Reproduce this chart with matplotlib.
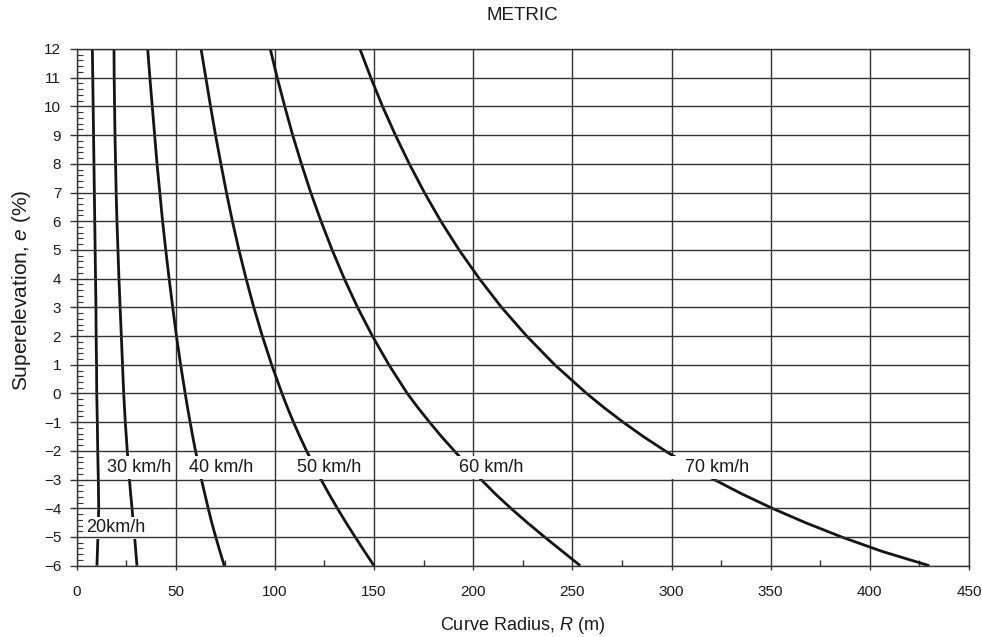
import matplotlib
matplotlib.use('Agg')
import matplotlib.pyplot as plt
from matplotlib.ticker import MultipleLocator

plt.rcParams['font.family'] = ['Liberation Sans', 'DejaVu Sans']
plt.rcParams['mathtext.fontset'] = 'custom'
plt.rcParams['mathtext.rm'] = 'Liberation Sans'
plt.rcParams['mathtext.it'] = 'Liberation Sans:italic'

# ---- data ----
e_levels = [12, 11, 10, 9, 8, 7, 6, 5, 4, 3, 2, 1, 0,
            -0.5, -1, -1.5, -2, -2.5, -3, -3.5, -4, -4.5, -5, -5.5, -6]

R_20 = [8.0, 8.2, 8.4, 8.6, 8.8, 9.0, 9.2, 9.4, 9.6, 9.8, 9.9, 10.1, 10.2,
        10.35, 10.5, 10.6, 10.7, 10.85, 11.0, 11.1, 11.2, 11.0, 10.8, 10.55, 10.3]
R_30 = [18.9, 19.0, 19.2, 19.4, 19.7, 20.0, 20.4, 20.9, 21.4, 22.0, 22.6, 23.2, 23.8,
        24.2, 24.6, 25.1, 25.6, 26.1, 26.7, 27.3, 28.0, 28.6, 29.3, 29.9, 30.5]
R_40 = [35.9, 37.0, 38.2, 39.4, 40.6, 42.0, 43.4, 45.0, 46.7, 48.5, 50.4, 52.5, 54.8,
        56.0, 57.3, 58.6, 60.0, 61.5, 63.0, 64.7, 66.4, 68.2, 70.2, 72.3, 74.5]
R_50 = [62.8, 65.2, 67.6, 70.1, 72.8, 75.6, 78.6, 81.9, 85.5, 89.4, 93.7, 98.4, 103.6,
        106.4, 109.4, 112.6, 116.0, 119.6, 123.3, 127.3, 131.5, 135.9, 140.5, 145.2, 150.0]
R_60 = [97.7, 101.2, 105.0, 109.0, 113.4, 118.1, 123.3, 128.9, 135.0, 141.7, 149.2, 157.5, 166.8,
        172.2, 178.0, 184.0, 190.5, 197.0, 204.0, 211.2, 219.0, 227.3, 236.0, 245.0, 254.0]
R_70 = [142.9, 148.4, 154.3, 160.8, 167.8, 175.4, 183.7, 192.9, 203.1, 214.3, 227.0, 241.1, 257.2,
        266.1, 275.6, 285.8, 296.8, 308.7, 321.5, 335.5, 350.8, 367.5, 385.8, 406.1, 430.0]

label_text = ['20km/h', '30 km/h', '40 km/h', '50 km/h', '60 km/h', '   70 km/h']
label_R = [4.8, 15.2, 56.9, 111.4, 193.0, 299.4]
label_e = [-4.84, -2.74, -2.74, -2.74, -2.74, -2.74]

x_ticks = [0, 50, 100, 150, 200, 250, 300, 350, 400, 450]
y_ticks = list(range(-6, 13))

title = 'METRIC'
x_label = 'Curve Radius, $R$ (m)'
y_label = 'Superelevation, $e$ (%)'

# ---- figure ----
W, H = 982, 637
fig = plt.figure(figsize=(W / 100, H / 100), dpi=100)
left, right, top, bottom = 76.5, 969.0, 49.0, 565.7
ax = fig.add_axes([left / W, 1 - bottom / H, (right - left) / W, (bottom - top) / H])

grid_color = '#333333'
curve_color = '#141414'

for xt in x_ticks:
    ax.axvline(xt, color=grid_color, lw=1.0, zorder=2)
for yt in y_ticks:
    ax.axhline(yt, color=grid_color, lw=1.0, zorder=5)

for R in [R_20, R_30, R_40, R_50, R_60, R_70]:
    ax.plot(R, e_levels, color=curve_color, lw=2.0, zorder=3,
            solid_capstyle='butt', solid_joinstyle='round')

for t, r, e in zip(label_text, label_R, label_e):
    ax.text(r, e, t, ha='left', va='baseline', fontsize=13, color='#1a1a1a', zorder=4,
            bbox=dict(boxstyle='square,pad=0.15', facecolor='white', edgecolor='none'))

ax.set_xlim(0, 450)
ax.set_ylim(-6, 12)
ax.set_xticks(x_ticks)
ax.set_yticks(y_ticks)
ax.xaxis.set_minor_locator(MultipleLocator(25))
ax.yaxis.set_minor_locator(MultipleLocator(0.2))

ax.tick_params(axis='x', which='major', direction='out', length=3, width=1.0,
               color=grid_color, pad=11, labelsize=11, labelcolor='#1a1a1a')
ax.tick_params(axis='x', which='minor', direction='in', length=4, width=1.0, color=grid_color)
ax.tick_params(axis='y', which='major', direction='out', length=5, width=1.0,
               color=grid_color, pad=6, labelsize=11, labelcolor='#1a1a1a')
ax.tick_params(axis='y', which='minor', direction='in', length=4, width=0.8, color=grid_color)

for sp in ax.spines.values():
    sp.set_color(grid_color)
    sp.set_linewidth(1.0)
    sp.set_zorder(6)

fig.text(522.7 / W, 1 - 15 / H, title, ha='center', va='center', fontsize=13.5, color='#1a1a1a')
fig.text(522.7 / W, 1 - 630 / H, x_label, ha='center', va='baseline', fontsize=13, color='#1a1a1a')
fig.text(22.0 / W, 1 - 290 / H, y_label, ha='center', va='center', rotation=90,
         fontsize=15, color='#1a1a1a')

fig.savefig('out.png', dpi=100, facecolor='white')
